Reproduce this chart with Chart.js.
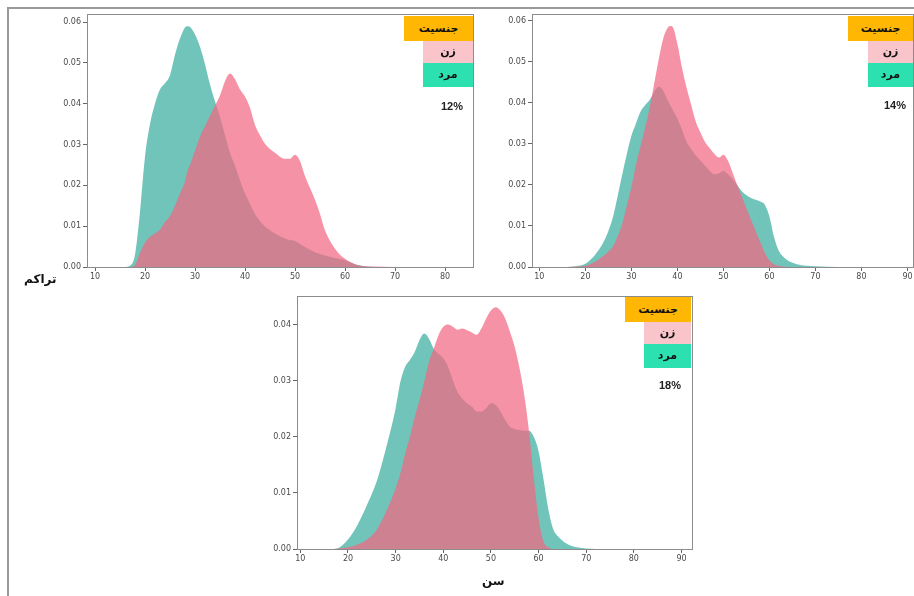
<!DOCTYPE html>
<html>
<head>
<meta charset="utf-8">
<script src="https://cdn.jsdelivr.net/npm/chart.js@4.4.1/dist/chart.umd.min.js"></script>
<style>
  html, body { margin:0; padding:0; background:#fff; }
  body { width:914px; height:596px; position:relative; overflow:hidden; }
  .frame { position:absolute; left:7px; top:7px; width:920px; height:587px;
           border-top:2px solid #9a9a9a; border-left:2px solid #9a9a9a; border-bottom:1px solid #e6e6e6; }
  canvas { position:absolute; }
  .lg { position:absolute; font-family:"DejaVu Sans", sans-serif; font-weight:bold; font-size:11px;
        color:#111; text-align:center; direction:rtl; }
  .pct { position:absolute; font-family:"Liberation Sans", Arial, sans-serif; font-weight:bold; font-size:11px; color:#222; }
  .axt { position:absolute; font-family:"DejaVu Sans", sans-serif; font-weight:bold; font-size:12px; color:#111; direction:rtl; }
</style>
</head>
<body>
<div class="frame"></div>
<canvas id="c1" width="450" height="286" style="left:30px;top:4px;"></canvas>
<canvas id="c2" width="434" height="286" style="left:480px;top:4px;"></canvas>
<canvas id="c3" width="460" height="290" style="left:240px;top:286px;"></canvas>
<div id="legends"></div>
<div class="axt" style="left:24px;top:272px;">تراکم</div>
<div class="axt" style="left:482px;top:574px;">سن</div>
<script>
// ---------- data ----------
const legendTitle = "جنسیت";
const seriesNames = ["زن", "مرد"];          // women, men
const percentLabels = ["12%", "14%", "18%"];

const xTicks1 = [10, 20, 30, 40, 50, 60, 70, 80];
const xTicks2 = [10, 20, 30, 40, 50, 60, 70, 80, 90];
const xTicks3 = [10, 20, 30, 40, 50, 60, 70, 80, 90];
const yTicks1 = [0, 0.01, 0.02, 0.03, 0.04, 0.05, 0.06];
const yTicks2 = [0, 0.01, 0.02, 0.03, 0.04, 0.05, 0.06];
const yTicks3 = [0, 0.01, 0.02, 0.03, 0.04];

// chart 1 (12%)
const ages1  = [12,16,17,18,19,20,21,22,23,24,25,26,27,28,28.5,29,30,31,32,33,34,35,36,37,38,39,40,41,42,43,44,46,48,49,50,51,52,54,55,56,58,60,62,64,66,70,84];
const men1   = [0,0,0.0003,0.003,0.0135,0.027,0.035,0.040,0.0435,0.045,0.047,0.052,0.056,0.0587,0.059,0.0588,0.057,0.054,0.0497,0.0447,0.0406,0.0368,0.0323,0.028,0.0248,0.0212,0.018,0.0155,0.013,0.0113,0.0099,0.0082,0.007,0.0066,0.0064,0.0057,0.0049,0.0036,0.0032,0.0028,0.0022,0.0017,0.0007,0.0002,0,0,0];
const women1 = [0,0,0,0.0005,0.0035,0.006,0.0074,0.0082,0.0092,0.011,0.0125,0.015,0.018,0.021,0.0235,0.025,0.0285,0.032,0.0345,0.037,0.0395,0.042,0.0455,0.0474,0.046,0.0435,0.0418,0.039,0.0348,0.0323,0.0302,0.028,0.0265,0.0265,0.0275,0.026,0.0223,0.0165,0.013,0.009,0.0045,0.002,0.0007,0.0002,0.0001,0,0];

// chart 2 (14%)
const ages2  = [12,16,18,20,22,24,25,26,27,28,29,30,31,32,33,34,35,36,37,38,38.5,39,40,41,42,43,44,45,46,47,48,49,50,51,52,53,54,55,56,57,58,59,60,61,62,63,64,66,70,75,90];
const men2   = [0,0,0.0002,0.0008,0.0028,0.0062,0.0088,0.0122,0.0172,0.0225,0.0275,0.032,0.035,0.0379,0.0395,0.0408,0.0428,0.044,0.0428,0.0404,0.0393,0.0383,0.0362,0.0335,0.0305,0.0288,0.0272,0.026,0.0247,0.0235,0.0226,0.0228,0.0234,0.0226,0.0214,0.02,0.0185,0.0175,0.0168,0.0164,0.016,0.0152,0.0123,0.0073,0.004,0.0025,0.0016,0.0007,0.0002,0,0];
const women2 = [0,0,0.0001,0.0003,0.0012,0.0028,0.0038,0.005,0.0075,0.0105,0.015,0.0195,0.025,0.0295,0.034,0.039,0.045,0.051,0.056,0.0585,0.0588,0.0585,0.0544,0.0486,0.0437,0.0395,0.0354,0.0328,0.0305,0.029,0.0276,0.0267,0.0274,0.0259,0.023,0.02,0.0172,0.0143,0.0115,0.0088,0.0061,0.0035,0.0016,0.0007,0.0003,0.0001,0,0,0,0,0];

// chart 3 (18%)
const ages3  = [13,16,18,19,20,22,24,26,28,30,31,32,33,34,35,36,37,38,39,40,41,42,43,44,45,46,47,48,49,50,51,52,53,54,55,56,57,58,59,60,61,62,63,64,66,68,72,88];
const men3   = [0,0,0.0002,0.0008,0.0017,0.0043,0.0079,0.012,0.018,0.0251,0.0298,0.0325,0.0337,0.0351,0.0372,0.0384,0.0375,0.0357,0.0348,0.034,0.0325,0.0301,0.028,0.0268,0.026,0.0254,0.0245,0.0245,0.0251,0.026,0.0257,0.0245,0.023,0.0218,0.0214,0.0212,0.0211,0.0211,0.02,0.0174,0.0126,0.0073,0.0037,0.0023,0.0009,0.0003,0,0];
const women3 = [0,0,0.0001,0.0002,0.0003,0.0008,0.0017,0.0034,0.0067,0.0108,0.0135,0.017,0.02,0.0235,0.0265,0.0298,0.0334,0.0357,0.0381,0.0396,0.04,0.0396,0.0391,0.0393,0.039,0.0386,0.0382,0.0393,0.0411,0.0425,0.0431,0.0425,0.0411,0.0387,0.036,0.0322,0.0274,0.0209,0.0126,0.0055,0.0014,0.0003,0,0,0,0,0,0];

// ---------- styles ----------
const MEN_FILL = "rgba(62,175,162,0.74)";
const WOMEN_FILL = "rgba(242,104,130,0.72)";

const spinePlugin = {
  id: "spines",
  afterDatasetsDraw(chart) {
    const a = chart.chartArea, ctx = chart.ctx;
    ctx.save();
    ctx.strokeStyle = "#8c8c8c";
    ctx.lineWidth = 1;
    ctx.strokeRect(Math.round(a.left) + 0.5, Math.round(a.top) + 0.5,
                   Math.round(a.right - a.left), Math.round(a.bottom - a.top));
    ctx.restore();
  }
};

function pts(xs, ys) { return xs.map((x, i) => ({ x: x, y: ys[i] })); }

function makeChart(id, cfg) {
  const tickFont = { family: "DejaVu Sans", size: 8 };
  return new Chart(document.getElementById(id), {
    type: "line",
    data: {
      datasets: [
        { label: seriesNames[0], data: pts(cfg.ages, cfg.women), backgroundColor: WOMEN_FILL,
          borderWidth: 0, borderColor: "rgba(0,0,0,0)", fill: "origin", pointRadius: 0,
          cubicInterpolationMode: "monotone" },
        { label: seriesNames[1], data: pts(cfg.ages, cfg.men), backgroundColor: MEN_FILL,
          borderWidth: 0, borderColor: "rgba(0,0,0,0)", fill: "origin", pointRadius: 0,
          cubicInterpolationMode: "monotone" }
      ]
    },
    options: {
      responsive: false,
      animation: false,
      devicePixelRatio: 1,
      layout: { padding: cfg.padding },
      plugins: { legend: { display: false }, tooltip: { enabled: false } },
      scales: {
        x: {
          type: "linear", min: cfg.xmin, max: cfg.xmax,
          afterBuildTicks: s => { s.ticks = cfg.xTicks.map(v => ({ value: v })); },
          afterFit: s => { s.height = cfg.xh; s.paddingLeft = 0; s.paddingRight = 0; },
          ticks: { font: tickFont, color: "#4a4a4a", padding: 1, maxRotation: 0, autoSkip: false,
                   callback: v => String(v) },
          grid: { drawOnChartArea: false, drawTicks: true, tickLength: 4, tickColor: "#666" },
          border: { display: false }
        },
        y: {
          type: "linear", min: 0, max: cfg.ymax,
          afterBuildTicks: s => { s.ticks = cfg.yTicks.map(v => ({ value: v })); },
          afterFit: s => { s.width = cfg.yw; s.paddingTop = 0; s.paddingBottom = 0; },
          ticks: { font: tickFont, color: "#4a4a4a", padding: 2, autoSkip: false,
                   callback: v => v.toFixed(2) },
          grid: { drawOnChartArea: false, drawTicks: true, tickLength: 4, tickColor: "#666" },
          border: { display: false }
        }
      }
    },
    plugins: [spinePlugin]
  });
}

makeChart("c1", { ages: ages1, men: men1, women: women1, xmin: 8.4, xmax: 85.6, ymax: 0.062,
  xTicks: xTicks1, yTicks: yTicks1, yw: 57, xh: 23, padding: { top: 10, right: 7, left: 0, bottom: 0 } });
makeChart("c2", { ages: ages2, men: men2, women: women2, xmin: 8.4, xmax: 91.2, ymax: 0.0617,
  xTicks: xTicks2, yTicks: yTicks2, yw: 52, xh: 23, padding: { top: 10, right: 1, left: 0, bottom: 0 } });
makeChart("c3", { ages: ages3, men: men3, women: women3, xmin: 9.3, xmax: 92.2, ymax: 0.0451,
  xTicks: xTicks3, yTicks: yTicks3, yw: 57, xh: 27, padding: { top: 10, right: 8, left: 0, bottom: 0 } });

// ---------- legend boxes (as in the reference images) ----------
const legendBoxes = [
  { ox: 404, px: 423, r: 473, y: 16, pctX: 441, pctY: 100, pct: percentLabels[0] },
  { ox: 848, px: 868, r: 913, y: 16, pctX: 884, pctY: 99,  pct: percentLabels[1] },
  { ox: 625, px: 644, r: 691, y: 297, pctX: 659, pctY: 379, pct: percentLabels[2] }
];
const host = document.getElementById("legends");
legendBoxes.forEach(b => {
  const rows = [
    { left: b.ox, top: b.y,      h: 25, bg: "#ffb703", text: legendTitle },
    { left: b.px, top: b.y + 25, h: 22, bg: "#f9c5ca", text: seriesNames[0] },
    { left: b.px, top: b.y + 47, h: 24, bg: "#2ce0b0", text: seriesNames[1] }
  ];
  rows.forEach(r => {
    const d = document.createElement("div");
    d.className = "lg";
    d.style.left = r.left + "px"; d.style.top = r.top + "px";
    d.style.width = (b.r - r.left) + "px"; d.style.height = r.h + "px";
    d.style.lineHeight = r.h + "px"; d.style.background = r.bg;
    d.textContent = r.text;
    host.appendChild(d);
  });
  const p = document.createElement("div");
  p.className = "pct";
  p.style.left = b.pctX + "px"; p.style.top = b.pctY + "px";
  p.textContent = b.pct;
  host.appendChild(p);
});
</script>
</body>
</html>
